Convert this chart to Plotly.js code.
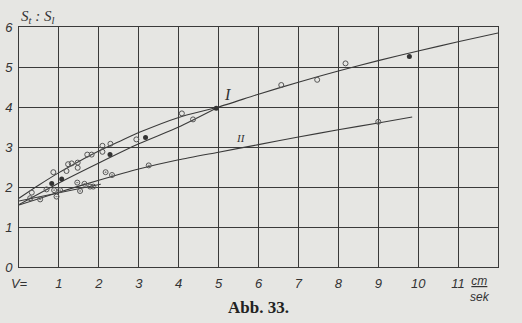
<!DOCTYPE html>
<html>
<head>
<meta charset="utf-8">
<script src="https://cdn.plot.ly/plotly-3.0.1.min.js"></script>
<style>
  html, body { margin: 0; padding: 0; background: #e6e6e3; }
  #chart { width: 522px; height: 323px; }
</style>
</head>
<body>
<div id="chart"></div>
<script>
// ---- data ----
const curveI_x = [0, 0.5, 1, 1.5, 2, 2.5, 3, 4, 5, 6, 7, 8, 9, 10, 11, 12];
const curveI_y = [1.72, 2.05, 2.36, 2.64, 2.9, 3.13, 3.36, 3.74, 4.0, 4.32, 4.62, 4.9, 5.16, 5.4, 5.63, 5.85];

const curveIb_x = [0, 1, 2, 3, 4, 4.94];
const curveIb_y = [1.56, 2.1, 2.6, 3.08, 3.5, 3.97];

const curveII_x = [0, 1, 2, 3, 4, 5, 6, 7, 8, 9, 9.85];
const curveII_y = [1.55, 1.87, 2.17, 2.45, 2.68, 2.87, 3.06, 3.25, 3.43, 3.6, 3.75];

const shortLine_x = [0, 2.05];
const shortLine_y = [1.65, 2.07];

const openPts_x = [0.32, 0.86, 1.19, 1.23, 1.32, 1.47, 1.47, 1.71, 1.82, 2.09, 2.09, 2.29, 2.94, 4.08, 4.36, 6.57, 7.47, 8.18, 12.28];
const openPts_y = [1.86, 2.37, 2.4, 2.57, 2.59, 2.61, 2.48, 2.81, 2.81, 3.03, 2.88, 3.08, 3.19, 3.84, 3.69, 4.55, 4.68, 5.09, 5.84];

const filledPts_x = [0.82, 1.07, 2.28, 3.17, 4.94, 9.78];
const filledPts_y = [2.09, 2.2, 2.81, 3.24, 3.97, 5.26];

const dotPts_x = [0.28, 0.53, 0.69, 0.88, 0.94, 1.03, 1.46, 1.53, 1.64, 1.78, 1.86, 2.17, 2.33, 3.25, 9.0];
const dotPts_y = [1.72, 1.69, 1.94, 1.92, 1.76, 1.92, 2.11, 1.9, 2.08, 2.01, 2.01, 2.37, 2.3, 2.54, 3.63];

const xTickVals = [0, 1, 2, 3, 4, 5, 6, 7, 8, 9, 10, 11];
const xTickText = ['V=', '1', '2', '3', '4', '5', '6', '7', '8', '9', '10', '11'];
const yTickVals = [0, 1, 2, 3, 4, 5, 6];
const yTickText = ['0', '1', '2', '3', '4', '5', '6'];

const labelI = {x: 5.22, y: 4.32, text: 'I'};
const labelII = {x: 5.55, y: 3.22, text: 'II'};

// ---- drawing ----
const ink = '#3a3a3a';
const lineStyle = {color: ink, width: 1.1, shape: 'spline', smoothing: 0.6};
const traces = [
  {x: curveI_x, y: curveI_y, mode: 'lines', line: lineStyle, hoverinfo: 'skip'},
  {x: curveIb_x, y: curveIb_y, mode: 'lines', line: lineStyle, hoverinfo: 'skip'},
  {x: curveII_x, y: curveII_y, mode: 'lines', line: lineStyle, hoverinfo: 'skip'},
  {x: shortLine_x, y: shortLine_y, mode: 'lines', line: {color: ink, width: 1}, hoverinfo: 'skip'},
  {x: openPts_x, y: openPts_y, mode: 'markers', cliponaxis: false,
   marker: {symbol: 'circle-open', size: 5, color: '#555', line: {width: 1}}},
  {x: filledPts_x, y: filledPts_y, mode: 'markers', cliponaxis: false,
   marker: {symbol: 'circle', size: 5, color: '#333'}},
  {x: dotPts_x, y: dotPts_y, mode: 'markers', cliponaxis: false,
   marker: {symbol: 'circle-open-dot', size: 5, color: '#555', line: {width: 1}}}
];

const tickFont = {family: 'Liberation Sans, Arial, sans-serif', size: 13, color: '#333', style: 'italic'};
const plainSerif = (size, color) => ({family: 'Liberation Serif, serif', size: size, color: color, style: 'normal'});

const layout = {
  width: 522, height: 323,
  margin: {l: 19, r: 24, t: 27, b: 56, pad: 0},
  paper_bgcolor: '#e6e6e3',
  plot_bgcolor: '#e6e6e3',
  showlegend: false,
  xaxis: {
    range: [0, 12], tickvals: xTickVals, ticktext: xTickText,
    showgrid: true, gridcolor: ink, gridwidth: 1,
    showline: true, linecolor: ink, linewidth: 1, mirror: true,
    zeroline: false, ticks: '', ticklabelstandoff: 4,
    tickfont: tickFont, fixedrange: true
  },
  yaxis: {
    range: [0, 6], tickvals: yTickVals, ticktext: yTickText,
    showgrid: true, gridcolor: ink, gridwidth: 1,
    showline: true, linecolor: ink, linewidth: 1, mirror: true,
    zeroline: false, ticks: '', ticklabelstandoff: 3,
    tickfont: tickFont, fixedrange: true
  },
  annotations: [
    {xref: 'paper', yref: 'paper', x: 0.0, y: 1.0, xanchor: 'left', yanchor: 'bottom', yshift: -1,
     text: '<i>S<sub>t</sub> : S<sub>l</sub></i>', showarrow: false,
     font: plainSerif(15, '#333')},
    {xref: 'x', yref: 'paper', x: 11.25, y: 0, xanchor: 'left', yanchor: 'top', yshift: -5,
     text: '<i><span style="text-decoration:underline">cm</span><br>sek</i>', showarrow: false,
     font: {family: 'Liberation Sans, Arial, sans-serif', size: 12, color: '#333', style: 'normal'}},
    {xref: 'x', yref: 'y', x: labelI.x, y: labelI.y, text: '<i>' + labelI.text + '</i>', showarrow: false,
     font: plainSerif(16, '#333')},
    {xref: 'x', yref: 'y', x: labelII.x, y: labelII.y, text: '<i>' + labelII.text + '</i>', showarrow: false,
     font: plainSerif(11, '#333')},
    {xref: 'paper', yref: 'paper', x: 0.5, y: 0, yanchor: 'top', yshift: -29,
     text: '<b>Abb. 33.</b>', showarrow: false,
     font: plainSerif(17, '#222')}
  ]
};

Plotly.newPlot('chart', traces, layout, {staticPlot: true, displayModeBar: false});
</script>
</body>
</html>
